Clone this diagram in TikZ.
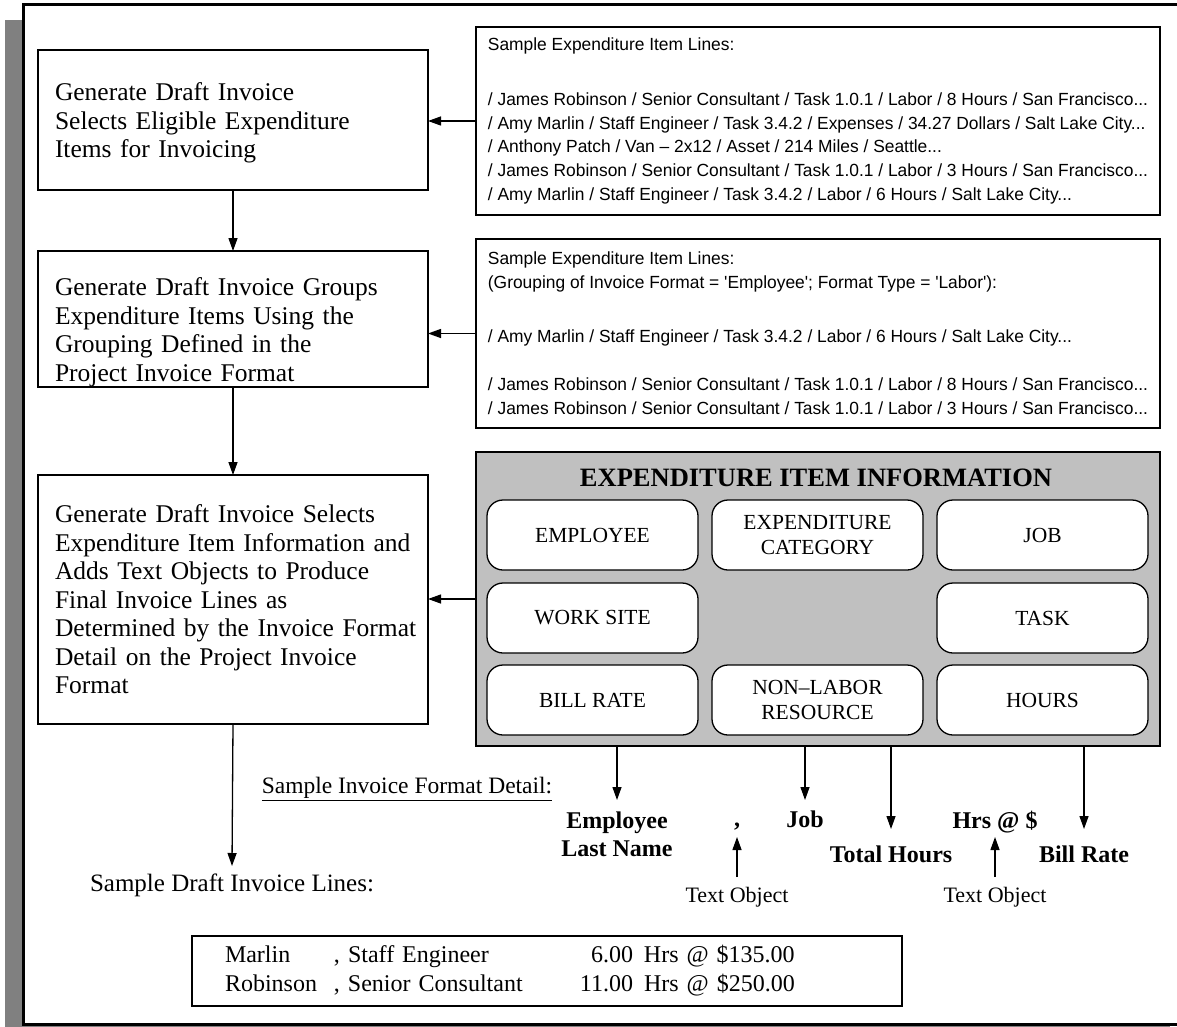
\documentclass[tikz,border=0pt]{standalone}
\usepackage{fontspec}
\setmainfont{Liberation Serif}
\newfontfamily\sansfam[FakeStretch=0.988]{Liberation Sans}
\usetikzlibrary{arrows.meta}

\newcommand\fsz[2]{\fontsize{#1}{#2}\selectfont}
\definecolor{shadowgray}{HTML}{808080}
\definecolor{panelgray}{HTML}{C0C0C0}

\begin{document}
\begin{tikzpicture}[x=1pt,y=-1pt,
  every node/.style={inner sep=0pt, outer sep=0pt},
  arr/.style={line width=1.3pt, -{Triangle[length=13pt,width=9pt]}},
  stepbox/.style={draw, line width=1.3pt, fill=white, align=left, text width=356pt,
    inner xsep=17pt, minimum width=390pt, anchor=north west, font=\fsz{25.5}{28.5}},
  samplebox/.style={draw, line width=1.3pt, fill=white, align=left,
    minimum width=684pt, anchor=north west, font=\sansfam\fsz{17.6}{23.7}},
  itembox/.style={draw, line width=1.3pt, fill=white, rounded corners=16pt,
    minimum width=211pt, minimum height=70pt, align=center, anchor=north west,
    font=\fsz{21.5}{24.5}},
  fieldlbl/.style={font=\bfseries\fsz{24}{28}, align=center, anchor=north},
  notelbl/.style={font=\fsz{22}{26}, anchor=north},
]
\useasboundingbox (0,0) rectangle (1177,1027);
\clip (0,0) rectangle (1177,1027);

% page frame with its drop shadow
\fill[shadowgray] (5,20) rectangle (1170,1045);
\draw[line width=3pt, fill=white] (23,5) rectangle (1190,1024);

% process steps
\node[stepbox, minimum height=140pt] (b1) at (38,50)
  {\rule{0pt}{24pt}Generate Draft Invoice\\ Selects Eligible Expenditure\\ Items for Invoicing};
\node[stepbox, minimum height=136pt] (b2) at (38,251)
  {\rule{0pt}{44pt}Generate Draft Invoice Groups\\ Expenditure Items Using the\\ Grouping Defined in the\\ Project Invoice Format};
\node[stepbox, minimum height=249pt] (b3) at (38,475)
  {Generate Draft Invoice Selects\\ \mbox{Expenditure Item Information and}\\ Adds Text Objects to Produce\\ Final Invoice Lines as\\ \mbox{Determined by the Invoice Format}\\ Detail on the Project Invoice\\ Format};

% sample expenditure lines
\node[samplebox, minimum height=188pt] (r1) at (476,27)
  {Sample Expenditure Item Lines:\\[31pt]
   / James Robinson / Senior Consultant / Task 1.0.1 / Labor / 8 Hours / San Francisco...\\
   / Amy Marlin / Staff Engineer / Task 3.4.2 / Expenses / 34.27 Dollars / Salt Lake City...\\
   / Anthony Patch / Van – 2x12 / Asset / 214 Miles / Seattle...\\
   / James Robinson / Senior Consultant / Task 1.0.1 / Labor / 3 Hours / San Francisco...\\
   / Amy Marlin / Staff Engineer / Task 3.4.2 / Labor / 6 Hours / Salt Lake City...};
\node[samplebox, minimum height=189pt] (r2) at (476,239)
  {Sample Expenditure Item Lines:\\
   (Grouping of Invoice Format = 'Employee'; Format Type = 'Labor'):\\[30pt]
   / Amy Marlin / Staff Engineer / Task 3.4.2 / Labor / 6 Hours / Salt Lake City...\\[25pt]
   / James Robinson / Senior Consultant / Task 1.0.1 / Labor / 8 Hours / San Francisco...\\
   / James Robinson / Senior Consultant / Task 1.0.1 / Labor / 3 Hours / San Francisco...};

% expenditure item information panel
\node[draw, line width=1.3pt, fill=panelgray, anchor=north west,
  minimum width=684pt, minimum height=294pt] (g) at (476,452) {};
\node[font=\bfseries\fsz{26.5}{30}] (gt) at (816,478) {EXPENDITURE ITEM INFORMATION};
\node[itembox] (e1) at (487,500) {EMPLOYEE};
\node[itembox] (e2) at (712,500) {EXPENDITURE\\ CATEGORY};
\node[itembox] (e3) at (937,500) {JOB};
\node[itembox] (e4) at (487,583) {WORK SITE};
\node[itembox] (e5) at (937,583) {TASK};
\node[itembox] (e6) at (487,665) {BILL RATE};
\node[itembox] (e7) at (712,665) {NON--LABOR\\ RESOURCE};
\node[itembox] (e8) at (937,665) {HOURS};

% flow between steps
\draw[arr] (b1.south) -- (b2.north);
\draw[arr] (b2.south) -- (b3.north);
\draw[arr] (r1.west) -- (b1.east |- r1.west);
\draw[arr] (r2.west) -- (b2.east |- r2.west);
\draw[arr] (g.west) -- (b3.east |- g.west);

% invoice format detail
\node[font=\fsz{23.5}{26}] (fmt) at (407,789) {\underline{Sample Invoice Format Detail:}};
\node[fieldlbl] (lemp) at (617,812) {Employee\\ Last Name};
\node[font=\bfseries\fsz{24}{28}, anchor=base] (lcom) at (737,826) {,};
\node[fieldlbl] (ljob) at (805,811) {Job};
\node[fieldlbl] (ltot) at (891,846) {Total Hours};
\node[fieldlbl] (lhrs) at (995,811) {Hrs @ \$};
\node[fieldlbl] (lbil) at (1084,846) {Bill Rate};
\node[notelbl] (to1) at (737,887) {Text Object};
\node[notelbl] (to2) at (995,887) {Text Object};
\coordinate (c1) at (737,837);
\coordinate (c2) at (995,837);

\draw[arr] (g.south -| lemp.north) -- ([yshift=12pt]lemp.north);
\draw[arr] (g.south -| ljob.north) -- ([yshift=11pt]ljob.north);
\draw[arr] (g.south -| ltot.north) -- ([yshift=17pt]ltot.north);
\draw[arr] (g.south -| lbil.north) -- ([yshift=17pt]lbil.north);
\draw[arr] ([yshift=10pt]to1.north) -- (c1);
\draw[arr] ([yshift=10pt]to2.north) -- (c2);

% resulting draft invoice lines
\coordinate (dend) at (232,866);
\draw[arr] (b3.south) -- (dend);
\node[font=\fsz{25}{28}, anchor=north] (dl) at (232,874) {Sample Draft Invoice Lines:};
\node[draw, line width=1.3pt, anchor=north west, minimum width=710pt, minimum height=70pt,
  text width=644pt, inner xsep=33pt, align=left, font=\fsz{24}{29}] (inv) at (192,936)
  {\makebox[109pt][l]{Marlin}\makebox[230pt][l]{, Staff Engineer}\makebox[69pt][r]{6.00}\hspace{11pt}Hrs @ \$135.00\\
   \makebox[109pt][l]{Robinson}\makebox[230pt][l]{, Senior Consultant}\makebox[69pt][r]{11.00}\hspace{11pt}Hrs @ \$250.00};
\end{tikzpicture}
\end{document}
